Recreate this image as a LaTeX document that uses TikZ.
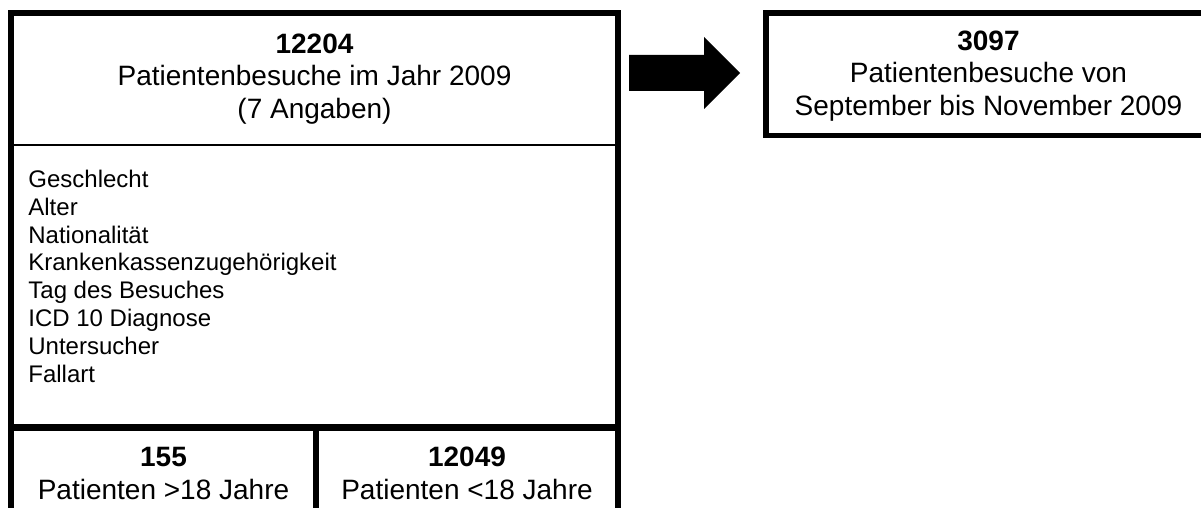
\documentclass[tikz,border=0pt]{standalone}
\usepackage{fontspec}
\setmainfont{Liberation Sans}
\usetikzlibrary{positioning}
\tikzset{
    frame/.style={line width=2.9pt, line join=miter}, % thick box borders
    double frame/.style={line width=3.35pt}, % where two boxes meet
    sep/.style={line width=0.8pt}, % thin line under the heading
    head/.style={align=center, inner sep=0pt, font=\fontsize{14}{16.3}\selectfont},
    items/.style={align=left, inner sep=0pt, font=\fontsize{12}{13.95}\selectfont},
}

\begin{document}
\begin{tikzpicture}[x=0.5pt, y=-0.5pt]
    \useasboundingbox (0,0) rectangle (1201,508);
    % left block
    \draw[frame] (11,530) -- (11,13) -- (618,13) -- (618,530);
    \draw[sep] (11,145) -- (618,145);
    \draw[double frame] (11,427.5) -- (618,427.5);
    \draw[double frame] (316,427.5) -- (316,530);
    % right block
    \draw[frame] (1215,13) -- (766,13) -- (766,135.5) -- (1215,135.5);

    \node[head] (total) at (314.5,79) {\textbf{12204}\\Patientenbesuche im Jahr 2009\\(7 Angaben)};
    \node[items, anchor=north west] (fields) at (28,169.5) {Geschlecht\\Alter\\Nationalität\\Krankenkassenzugehörigkeit\\Tag des Besuches\\ICD 10 Diagnose\\Untersucher\\Fallart};
    \node[head] (adults) at (163.5,473.5) {\textbf{155}\\Patienten >18 Jahre};
    \node[head] (children) at (467,473.5) {\textbf{12049}\\Patienten <18 Jahre};
    \node[head] (sample) at (988.5,76) {\textbf{3097}\\Patientenbesuche von\\September bis November 2009};

    % block arrow
    \fill (629,55) -- (704,55) -- (704,37) -- (740,73) -- (704,109) -- (704,91) -- (629,91) -- cycle;
\end{tikzpicture}
\end{document}
